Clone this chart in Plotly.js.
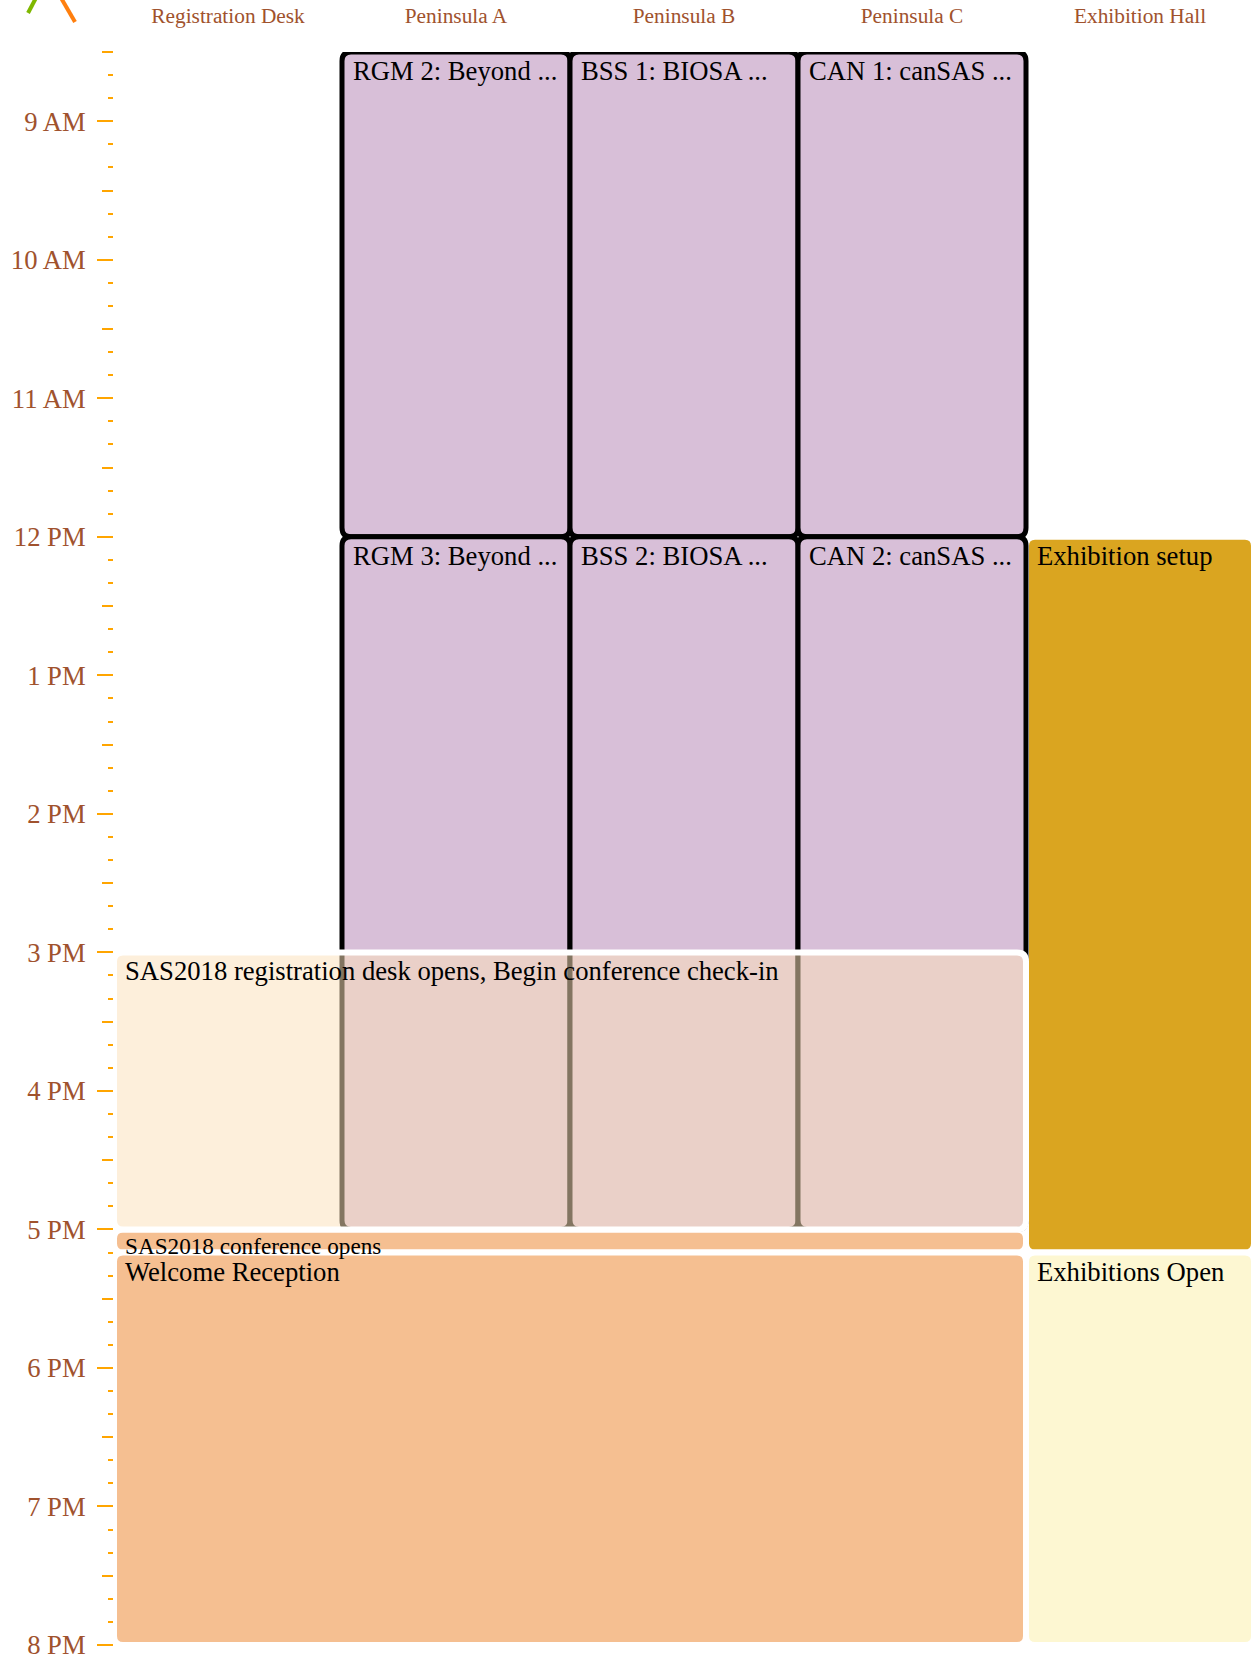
<!DOCTYPE html>
<html>
<head>
<meta charset="utf-8">
<script src="https://cdn.plot.ly/plotly-3.0.1.min.js"></script>
<style>
  html, body { margin: 0; padding: 0; background: #ffffff; }
  #chart { width: 1256px; height: 1656px; }
</style>
</head>
<body>
<div id="chart"></div>
<script>
// ---------------- DATA ----------------
const columns = ['Registration Desk', 'Peninsula A', 'Peninsula B', 'Peninsula C', 'Exhibition Hall'];

const hourTickValues = [9, 10, 11, 12, 13, 14, 15, 16, 17, 18, 19, 20];
const hourTickLabels = ['9 AM', '10 AM', '11 AM', '12 PM', '1 PM', '2 PM', '3 PM', '4 PM', '5 PM', '6 PM', '7 PM', '8 PM'];

const eventTitles = [
  'SAS2018 registration desk opens, Begin conference check-in',
  'SAS2018 conference opens',
  'Welcome Reception',
  'RGM 2: Beyond ...',
  'RGM 3: Beyond ...',
  'BSS 1: BIOSA ...',
  'BSS 2: BIOSA ...',
  'CAN 1: canSAS ...',
  'CAN 2: canSAS ...',
  'Exhibition setup',
  'Exhibitions Open'
];
const eventStart = ['15:00', '17:00', '17:10', '08:30', '12:00', '08:30', '12:00', '08:30', '12:00', '12:00', '17:10'];
const eventEnd   = ['17:00', '17:10', '20:00', '12:00', '17:00', '12:00', '17:00', '12:00', '17:00', '17:10', '20:00'];
const eventFirstColumn = ['Registration Desk', 'Registration Desk', 'Registration Desk', 'Peninsula A', 'Peninsula A', 'Peninsula B', 'Peninsula B', 'Peninsula C', 'Peninsula C', 'Exhibition Hall', 'Exhibition Hall'];
const eventLastColumn  = ['Peninsula C', 'Peninsula C', 'Peninsula C', 'Peninsula A', 'Peninsula A', 'Peninsula B', 'Peninsula B', 'Peninsula C', 'Peninsula C', 'Exhibition Hall', 'Exhibition Hall'];
const eventKind = ['registration', 'opening', 'reception', 'session', 'session', 'session', 'session', 'session', 'session', 'setup', 'exhibition'];

// ---------------- STYLE ----------------
const kindStyle = {
  setup:        { fill: '#DAA520', line: '#ffffff', width: 6, layer: 0, font: 26.67 },
  exhibition:   { fill: '#FDF7D2', line: '#ffffff', width: 6, layer: 0, font: 26.67 },
  reception:    { fill: '#F5BF91', line: '#ffffff', width: 6, layer: 1, font: 26.67 },
  opening:      { fill: '#F5BF91', line: '#ffffff', width: 6, layer: 1, font: 23.2 },
  session:      { fill: '#D8BFD8', line: '#000000', width: 5, layer: 2, font: 26.67 },
  registration: { fill: 'rgba(252,225,186,0.52)', line: '#ffffff', width: 6, layer: 3, font: 26.67 }
};

const W = 1256, H = 1656;
const M = { l: 114, r: 2, t: 52, b: 11 };
const yRange = [20, 8.5];
const xRange = [-0.5, columns.length - 0.5];
const cornerPx = 9;

const plotW = W - M.l - M.r;
const plotH = H - M.t - M.b;
const rx = cornerPx * (xRange[1] - xRange[0]) / plotW;
const ry = cornerPx * (yRange[0] - yRange[1]) / plotH;

function toHours(s) {
  const p = s.split(':');
  return Number(p[0]) + Number(p[1]) / 60;
}

function roundedPath(x0, x1, y0, y1) {
  const f = v => v.toFixed(6);
  return 'M' + f(x0 + rx) + ',' + f(y0) +
    ' L' + f(x1 - rx) + ',' + f(y0) +
    ' Q' + f(x1) + ',' + f(y0) + ' ' + f(x1) + ',' + f(y0 + ry) +
    ' L' + f(x1) + ',' + f(y1 - ry) +
    ' Q' + f(x1) + ',' + f(y1) + ' ' + f(x1 - rx) + ',' + f(y1) +
    ' L' + f(x0 + rx) + ',' + f(y1) +
    ' Q' + f(x0) + ',' + f(y1) + ' ' + f(x0) + ',' + f(y1 - ry) +
    ' L' + f(x0) + ',' + f(y0 + ry) +
    ' Q' + f(x0) + ',' + f(y0) + ' ' + f(x0 + rx) + ',' + f(y0) + ' Z';
}

const order = eventTitles.map((_, i) => i).sort((a, b) => kindStyle[eventKind[a]].layer - kindStyle[eventKind[b]].layer);

const shapes = [];
const annotations = [];
order.forEach(i => {
  const st = kindStyle[eventKind[i]];
  const x0 = columns.indexOf(eventFirstColumn[i]) - 0.5;
  const x1 = columns.indexOf(eventLastColumn[i]) + 0.5;
  const y0 = toHours(eventStart[i]);
  const y1 = toHours(eventEnd[i]);
  shapes.push({
    type: 'path', xref: 'x', yref: 'y', layer: 'above',
    path: roundedPath(x0, x1, y0, y1),
    fillcolor: st.fill,
    line: { color: st.line, width: st.width }
  });
});
eventTitles.forEach((t, i) => {
  const st = kindStyle[eventKind[i]];
  annotations.push({
    x: columns.indexOf(eventFirstColumn[i]) - 0.5,
    y: toHours(eventStart[i]),
    xref: 'x', yref: 'y',
    text: t, showarrow: false,
    xanchor: 'left', yanchor: 'top',
    xshift: 9, yshift: -2,
    font: { family: 'Liberation Serif, Times New Roman, serif', size: st.font, color: '#000000' }
  });
});

// small decorative strokes in the top-left corner
shapes.push({ type: 'line', xref: 'paper', yref: 'paper', x0: -0.0754, y0: 1.0245, x1: -0.0684, y1: 1.034, line: { color: '#7FB800', width: 4 } });
shapes.push({ type: 'line', xref: 'paper', yref: 'paper', x0: -0.0465, y0: 1.034, x1: -0.0342, y1: 1.0188, line: { color: '#FF7F0E', width: 4 } });

const halfHourTicks = hourTickValues.map(h => h - 0.5);

const data = [
  { type: 'scatter', x: [], y: [], xaxis: 'x', yaxis: 'y', hoverinfo: 'skip', showlegend: false },
  { type: 'scatter', x: [], y: [], xaxis: 'x', yaxis: 'y2', hoverinfo: 'skip', showlegend: false }
];

const tickFont = { family: 'Liberation Serif, Times New Roman, serif', color: '#A0522D' };

const layout = {
  width: W, height: H,
  margin: M,
  paper_bgcolor: '#ffffff', plot_bgcolor: '#ffffff',
  showlegend: false,
  xaxis: {
    range: xRange, side: 'top',
    tickmode: 'array', tickvals: columns.map((_, i) => i), ticktext: columns,
    ticks: '', showgrid: false, zeroline: false, showline: false,
    ticklabelstandoff: 24,
    tickfont: Object.assign({ size: 21.33 }, tickFont),
    fixedrange: true
  },
  yaxis: {
    range: yRange,
    tickmode: 'array', tickvals: hourTickValues, ticktext: hourTickLabels,
    ticks: 'outside', ticklen: 16, tickwidth: 2, tickcolor: '#FFA500',
    showgrid: false, zeroline: false, showline: false,
    ticklabelstandoff: 6,
    ticklabeloverflow: 'allow',
    tickfont: Object.assign({ size: 26.67 }, tickFont),
    minor: { tickmode: 'linear', tick0: 8.5, dtick: 1 / 6, ticks: 'outside', ticklen: 5, tickwidth: 2, tickcolor: '#FFA500', showgrid: false },
    fixedrange: true
  },
  yaxis2: {
    overlaying: 'y', side: 'left', range: yRange,
    tickmode: 'array', tickvals: halfHourTicks.concat([19.5]),
    ticks: 'outside', ticklen: 11, tickwidth: 2, tickcolor: '#FFA500',
    showticklabels: false, showgrid: false, zeroline: false, showline: false,
    fixedrange: true
  },
  shapes: shapes,
  annotations: annotations
};

Plotly.newPlot('chart', data, layout, { staticPlot: true, displayModeBar: false });
</script>
</body>
</html>
